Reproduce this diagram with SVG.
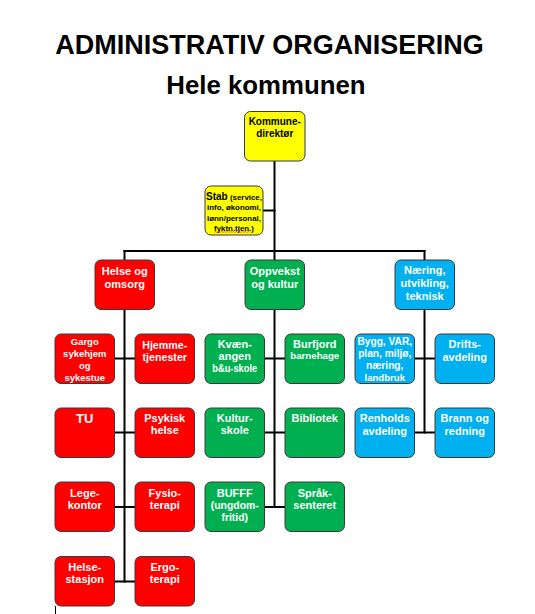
<svg xmlns="http://www.w3.org/2000/svg" width="535" height="614" viewBox="0 0 535 614">
<style>
text{font-family:"Liberation Sans",Arial,sans-serif;font-weight:bold;text-anchor:middle}
.box{stroke:#3a3a3a;stroke-width:1}
.r{fill:#ff0000}.g{fill:#00b050}.b{fill:#00b0f0}.y{fill:#ffff00}
.w{fill:#ffffff;font-size:11px}
.k{fill:#000000}
.conn line{stroke:#000000;stroke-width:2;stroke-linecap:square}
</style>
<rect width="535" height="614" fill="#ffffff"/>
<text x="269.5" y="53.5" class="k" style="font-size:27px">ADMINISTRATIV ORGANISERING</text>
<text x="266" y="94" class="k" style="font-size:25.8px">Hele kommunen</text>

<g id="connectors" class="conn">
<line x1="274.5" y1="161" x2="274.5" y2="251"/>
<line x1="263" y1="210.5" x2="274.5" y2="210.5"/>
<line x1="124.5" y1="251" x2="424.5" y2="251"/>
<line x1="124.5" y1="251" x2="124.5" y2="260"/>
<line x1="274.5" y1="251" x2="274.5" y2="260"/>
<line x1="424.5" y1="251" x2="424.5" y2="260"/>
<line x1="124.5" y1="309.5" x2="124.5" y2="581.5"/>
<line x1="114.5" y1="358.5" x2="135" y2="358.5"/>
<line x1="114.5" y1="432.5" x2="135" y2="432.5"/>
<line x1="114.5" y1="507" x2="135" y2="507"/>
<line x1="114.5" y1="581.5" x2="135" y2="581.5"/>
<line x1="274.5" y1="309.5" x2="274.5" y2="507"/>
<line x1="264.5" y1="358.5" x2="285" y2="358.5"/>
<line x1="264.5" y1="432.5" x2="285" y2="432.5"/>
<line x1="264.5" y1="507" x2="285" y2="507"/>
<line x1="424.5" y1="309.5" x2="424.5" y2="432.5"/>
<line x1="414.5" y1="358.5" x2="435" y2="358.5"/>
<line x1="414.5" y1="432.5" x2="435" y2="432.5"/>
</g>

<g id="kommunedirektor">
<rect class="box y" x="244.5" y="111.5" width="60.5" height="49.5" rx="6"/>
<text class="k" style="font-size:10px" x="274.75" y="124.5">Kommune-</text>
<text class="k" style="font-size:10px" x="274.75" y="137">direktør</text>
</g>

<g id="stab">
<rect class="box y" x="205" y="186" width="58" height="49" rx="6"/>
<text class="k" x="234" y="200" style="font-size:7.9px"><tspan style="font-size:10px">Stab</tspan> (service,</text>
<text class="k" x="234" y="210.3" style="font-size:7.9px">info, økonomi,</text>
<text class="k" x="234" y="220.6" style="font-size:7.9px">lønn/personal,</text>
<text class="k" x="234" y="230.9" style="font-size:7.9px">fyktn.tjen.)</text>
<polyline points="214,232.5 215.5,231.5 217,232.5 218.5,231.5 220,232.5 221.5,231.5 223,232.5 224.5,231.5 226,232.5 227.5,231.5 229,232.5 230.5,231.5 232,232.5 233.5,231.5 235,232.5 236.5,231.5 238,232.5 239.5,231.5 241,232.5 242.5,231.5 244,232.5 245.5,231.5 247,232.5 248.5,231.5 250,232.5" fill="none" stroke="#e02020" stroke-width="0.6"/>
</g>

<g id="helse-og-omsorg">
<rect class="box r" x="95" y="260" width="59.5" height="49.5" rx="6"/>
<text class="w" x="124.75" y="275">Helse og</text>
<text class="w" x="124.75" y="287.5">omsorg</text>
</g>
<g id="gargo">
<rect class="box r" x="55" y="334" width="59.5" height="49.5" rx="6"/>
<text class="w" style="font-size:9.5px" x="84.75" y="345.3">Gargo</text>
<text class="w" style="font-size:9.5px" x="84.75" y="357.1">sykehjem</text>
<text class="w" style="font-size:9.5px" x="84.75" y="368.9">og</text>
<text class="w" style="font-size:9.5px" x="84.75" y="380.5">sykestue</text>
</g>
<g id="hjemmetjenester">
<rect class="box r" x="135" y="334" width="59.5" height="49.5" rx="6"/>
<text class="w" style="font-size:10.7px" x="164.75" y="348.5">Hjemme-</text>
<text class="w" style="font-size:10.7px" x="164.75" y="361">tjenester</text>
</g>
<g id="tu">
<rect class="box r" x="55" y="408" width="59.5" height="49.5" rx="6"/>
<text class="w" style="font-size:13px" x="84.75" y="423.3">TU</text>
</g>
<g id="psykisk-helse">
<rect class="box r" x="135" y="408" width="59.5" height="49.5" rx="6"/>
<text class="w" x="164.75" y="421.7">Psykisk</text>
<text class="w" x="164.75" y="434.3">helse</text>
</g>
<g id="legekontor">
<rect class="box r" x="55" y="482" width="59.5" height="49.5" rx="6"/>
<text class="w" x="84.75" y="496.7">Lege-</text>
<text class="w" x="84.75" y="509">kontor</text>
</g>
<g id="fysioterapi">
<rect class="box r" x="135" y="482" width="59.5" height="49.5" rx="6"/>
<text class="w" x="164.75" y="496.7">Fysio-</text>
<text class="w" x="164.75" y="509">terapi</text>
</g>
<g id="helsestasjon">
<rect class="box r" x="55" y="556.5" width="59.5" height="49.5" rx="6"/>
<text class="w" x="84.75" y="570.7">Helse-</text>
<text class="w" x="84.75" y="583">stasjon</text>
</g>
<g id="ergoterapi">
<rect class="box r" x="135" y="556.5" width="59.5" height="49.5" rx="6"/>
<text class="w" x="164.75" y="570.7">Ergo-</text>
<text class="w" x="164.75" y="583">terapi</text>
</g>

<g id="oppvekst-og-kultur">
<rect class="box g" x="245" y="260" width="59.5" height="49.5" rx="6"/>
<text class="w" x="274.75" y="275">Oppvekst</text>
<text class="w" x="274.75" y="287.5">og kultur</text>
</g>
<g id="kvaenangen">
<rect class="box g" x="205" y="334" width="59.5" height="49.5" rx="6"/>
<text class="w" x="234.75" y="348">Kvæn-</text>
<text class="w" x="234.75" y="360.2">angen</text>
<text class="w" x="234.75" y="372.3" textLength="45" lengthAdjust="spacingAndGlyphs">b&amp;u-skole</text>
</g>
<g id="burfjord">
<rect class="box g" x="285" y="334" width="59.5" height="49.5" rx="6"/>
<text class="w" x="314.75" y="348">Burfjord</text>
<text class="w" style="font-size:9.7px" x="314.75" y="359">barnehage</text>
</g>
<g id="kulturskole">
<rect class="box g" x="205" y="408" width="59.5" height="49.5" rx="6"/>
<text class="w" x="234.75" y="421.7">Kultur-</text>
<text class="w" x="234.75" y="434.3">skole</text>
</g>
<g id="bibliotek">
<rect class="box g" x="285" y="408" width="59.5" height="49.5" rx="6"/>
<text class="w" x="314.75" y="421.7">Bibliotek</text>
</g>
<g id="bufff">
<rect class="box g" x="205" y="482" width="59.5" height="49.5" rx="6"/>
<text class="w" x="234.75" y="496.7">BUFFF</text>
<text class="w" style="font-size:10.4px" x="234.75" y="508.8">(ungdom-</text>
<text class="w" style="font-size:10.4px" x="234.75" y="520.5">fritid)</text>
</g>
<g id="spraksenteret">
<rect class="box g" x="285" y="482" width="59.5" height="49.5" rx="6"/>
<text class="w" x="314.75" y="496.7">Språk-</text>
<text class="w" x="314.75" y="509">senteret</text>
</g>

<g id="naering-utvikling-teknisk">
<rect class="box b" x="395" y="260" width="59.5" height="49.5" rx="6"/>
<text class="w" x="424.75" y="274">Næring,</text>
<text class="w" x="424.75" y="286.8">utvikling,</text>
<text class="w" x="424.75" y="299.5">teknisk</text>
</g>
<g id="bygg">
<rect class="box b" x="355" y="334" width="59.5" height="49.5" rx="6"/>
<text class="w" style="font-size:10.2px" x="384.75" y="345">Bygg, VAR,</text>
<text class="w" style="font-size:10.2px" x="384.75" y="357">plan, miljø,</text>
<text class="w" style="font-size:10.2px" x="384.75" y="369">næring,</text>
<text class="w" style="font-size:9.6px" x="384.75" y="380.5">landbruk</text>
</g>
<g id="driftsavdeling">
<rect class="box b" x="435" y="334" width="59.5" height="49.5" rx="6"/>
<text class="w" x="464.75" y="348">Drifts-</text>
<text class="w" x="464.75" y="361">avdeling</text>
</g>
<g id="renholdsavdeling">
<rect class="box b" x="355" y="408" width="59.5" height="49.5" rx="6"/>
<text class="w" x="384.75" y="421.7">Renholds</text>
<text class="w" x="384.75" y="434.5">avdeling</text>
</g>
<g id="brann-og-redning">
<rect class="box b" x="435" y="408" width="59.5" height="49.5" rx="6"/>
<text class="w" x="464.75" y="421.7">Brann og</text>
<text class="w" x="464.75" y="434.5">redning</text>
</g>

<line x1="55.5" y1="606" x2="55.5" y2="614" stroke="#000000" stroke-width="1"/>
</svg>
